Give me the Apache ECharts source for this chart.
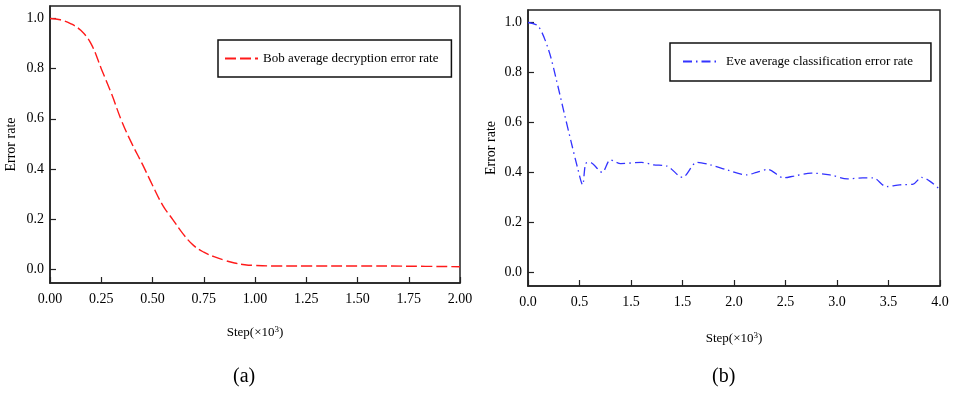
<!DOCTYPE html>
<html>
<head>
<meta charset="utf-8">
<script src="https://cdn.jsdelivr.net/npm/echarts@6/dist/echarts.min.js"></script>
<style>
  html, body { margin: 0; padding: 0; background: #fff; }
  #chart { width: 955px; height: 395px; }
</style>
</head>
<body>
<div id="chart"></div>
<script>
// (a) Bob
const stepsA = [0, 0.05, 0.1, 0.15, 0.2, 0.25, 0.3, 0.35, 0.4, 0.45, 0.5, 0.55, 0.6, 0.65, 0.7, 0.75, 0.8, 0.85, 0.9, 0.95, 1.0, 1.1, 1.25, 1.5, 1.75, 2.0];
const bobRate = [1.0, 0.995, 0.98, 0.953, 0.9, 0.8, 0.7, 0.59, 0.5, 0.42, 0.335, 0.255, 0.197, 0.14, 0.095, 0.068, 0.05, 0.036, 0.025, 0.018, 0.015, 0.013, 0.013, 0.013, 0.012, 0.01];
// (b) Eve
const stepsB = [0, 0.1, 0.2, 0.27, 0.35, 0.42, 0.48, 0.53, 0.56, 0.6, 0.72, 0.8, 0.9, 1.1, 1.22, 1.35, 1.5, 1.64, 1.77, 1.93, 2.12, 2.22, 2.33, 2.48, 2.58, 2.75, 2.93, 3.1, 3.25, 3.35, 3.48, 3.61, 3.74, 3.82, 3.9, 4.0];
const eveRate = [1.0, 0.985, 0.89, 0.78, 0.64, 0.52, 0.42, 0.35, 0.435, 0.44, 0.4, 0.45, 0.435, 0.44, 0.43, 0.425, 0.38, 0.44, 0.43, 0.41, 0.39, 0.4, 0.412, 0.378, 0.385, 0.397, 0.39, 0.374, 0.378, 0.378, 0.343, 0.35, 0.353, 0.38, 0.365, 0.331];

const yTicks = [0, 0.2, 0.4, 0.6, 0.8, 1.0];
const xTickLabelsA = ['0.00', '0.25', '0.50', '0.75', '1.00', '1.25', '1.50', '1.75', '2.00'];
const xTickLabelsB = ['0.0', '0.5', '1.5', '1.5', '2.0', '2.5', '3.0', '3.5', '4.0'];

const FONT = 'Liberation Serif';
const AX = '#222';

function pairs(xs, ys) {
  return xs.map((x, i) => [x, ys[i]]);
}

function xAxisFor(gridIndex, max, interval, labels, nameGap) {
  return {
    type: 'value',
    gridIndex: gridIndex,
    min: 0,
    max: max,
    interval: interval,
    name: 'Step(×10{sup|3})',
    nameLocation: 'middle',
    nameGap: nameGap,
    nameTextStyle: {
      fontFamily: FONT, fontSize: 13, color: '#000',
      rich: { sup: { fontFamily: FONT, fontSize: 9, color: '#000', verticalAlign: 'top', padding: [0, 0, 6, 0] } }
    },
    axisLine: { show: true, onZero: false, lineStyle: { color: AX, width: 1.5 } },
    axisTick: { show: true, inside: true, length: 6, lineStyle: { color: AX, width: 1.2 } },
    axisLabel: {
      margin: 9, fontFamily: FONT, fontSize: 14, color: '#000',
      formatter: (v) => labels[Math.round(v / interval)]
    },
    splitLine: { show: false }
  };
}

function yAxisFor(gridIndex, nameGap) {
  return {
    type: 'value',
    gridIndex: gridIndex,
    min: -0.055,
    max: 1.05,
    name: 'Error rate',
    nameLocation: 'middle',
    nameGap: nameGap,
    nameTextStyle: { fontFamily: FONT, fontSize: 14, color: '#000' },
    axisLine: { show: true, onZero: false, lineStyle: { color: AX, width: 1.5 } },
    axisTick: { show: true, inside: true, length: 6, customValues: yTicks, lineStyle: { color: AX, width: 1.2 } },
    axisLabel: {
      margin: 6, fontFamily: FONT, fontSize: 14, color: '#000',
      customValues: yTicks,
      formatter: (v) => v.toFixed(1)
    },
    splitLine: { show: false }
  };
}

function legendFor(name, left, top, pad, textPad) {
  return {
    data: [name],
    left: left, top: top,
    itemWidth: 33, itemHeight: 14,
    padding: pad,
    borderColor: '#111', borderWidth: 1.5,
    itemStyle: { opacity: 0 },
    textStyle: { fontFamily: FONT, fontSize: 13, color: '#000', padding: [0, 0, 0, textPad] }
  };
}

const chart = echarts.init(document.getElementById('chart'));
const option = {
  backgroundColor: '#fff',
  animation: false,
  title: [
    { text: '(a)', left: 228, top: 362, textStyle: { fontFamily: FONT, fontSize: 20, fontWeight: 'normal', color: '#000' } },
    { text: '(b)', left: 707, top: 362, textStyle: { fontFamily: FONT, fontSize: 20, fontWeight: 'normal', color: '#000' } }
  ],
  grid: [
    { left: 50, right: 495, top: 6, bottom: 112, show: true, borderColor: AX, borderWidth: 1.5, containLabel: false },
    { left: 528, right: 15, top: 10, bottom: 109, show: true, borderColor: AX, borderWidth: 1.5, containLabel: false }
  ],
  legend: [
    legendFor('Bob average decryption error rate', 218, 40, [12, 13, 12, 6], 0),
    legendFor('Eve average classification error rate', 670, 43, [12, 18, 13, 12], 5)
  ],
  xAxis: [
    xAxisFor(0, 2, 0.25, xTickLabelsA, 42),
    xAxisFor(1, 4, 0.5, xTickLabelsB, 45)
  ],
  yAxis: [
    yAxisFor(0, 32),
    yAxisFor(1, 30)
  ],
  series: [
    {
      name: 'Bob average decryption error rate',
      type: 'line',
      xAxisIndex: 0, yAxisIndex: 0,
      data: pairs(stepsA, bobRate),
      smooth: 0.4,
      symbol: 'none',
      lineStyle: { color: '#ff1a1a', width: 1.4, type: [11, 4] },
      itemStyle: { color: '#ff1a1a' }
    },
    {
      name: 'Eve average classification error rate',
      type: 'line',
      xAxisIndex: 1, yAxisIndex: 1,
      data: pairs(stepsB, eveRate),
      smooth: 0.3,
      symbol: 'none',
      lineStyle: { color: '#3333ff', width: 1.3, type: [9, 4, 1.5, 4] },
      itemStyle: { color: '#3333ff' }
    }
  ]
};
chart.setOption(option);
</script>
</body>
</html>
